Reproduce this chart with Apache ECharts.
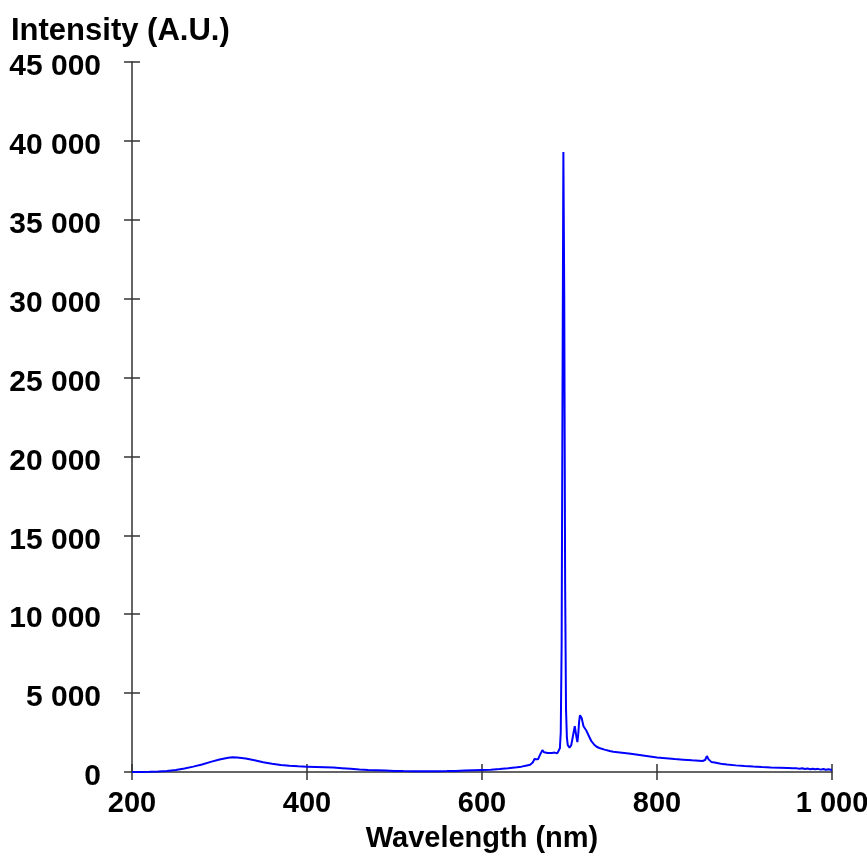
<!DOCTYPE html>
<html>
<head>
<meta charset="utf-8">
<script src="https://cdn.jsdelivr.net/npm/echarts@6/dist/echarts.min.js"></script>
<style>
html,body{margin:0;padding:0;background:#fff;}
#chart{width:867px;height:861px;}
</style>
</head>
<body>
<div id="chart"></div>
<script>
// Wavelength (nm)
var wavelengths = [200,210,220,230,240,250,260,270,280,290,300,310,315,320,330,340,350,360,370,380,390,400,410,420,430,440,450,460,470,480,490,500,510,520,530,540,550,560,570,580,590,600,610,620,630,640,645,650,655,658,660,662,664,666,669,671,673,675,677,680,683,686,688,689,690,691,692,693,694,695,696,697,698,700,702,704,706,707,708,709,710,711,712,713,714,716,719,722,725,728,731,734,740,746,750,760,770,780,790,800,810,820,830,840,848,852,855,857,859,862,866,870,875,880,890,900,910,914,920,930,940,950,952,955,960,963,966,969,972,975,978,981,984,987,990,993,996,1000];
// Intensity (A.U.)
var intensities = [0,5,10,25,60,120,220,340,480,640,790,900,930,920,850,740,620,520,450,400,360,340,320,300,280,240,200,160,130,110,90,70,60,55,50,50,55,60,70,90,110,130,150,190,240,300,340,400,460,600,820,700,800,1050,1390,1250,1280,1200,1250,1200,1230,1180,1250,1500,2500,8000,24000,39300,30000,12000,4000,2200,1700,1550,1700,2300,2900,2850,2200,1900,2400,3200,3600,3670,3400,2900,2650,2300,1950,1750,1600,1520,1420,1330,1290,1220,1150,1080,1000,920,870,820,780,740,720,700,760,1010,800,640,600,560,500,470,420,380,350,340,320,290,270,250,300,230,230,200,240,190,220,180,210,170,200,150,190,140,180,130];
var xTicks = [200,400,600,800,1000];
var yTicks = [0,5000,10000,15000,20000,25000,30000,35000,40000,45000];

var seriesData = wavelengths.map(function(w,i){return [w,intensities[i]];});
function fmt(v){ return String(v).replace(/\B(?=(\d{3})+(?!\d))/g,' '); }

var FONT = "'Liberation Sans', Arial, sans-serif";
var axisCol = '#333';

var chart = echarts.init(document.getElementById('chart'), null, {renderer:'canvas'});
chart.setOption({
  animation:false,
  backgroundColor:'#fff',
  title:{text:'Intensity (A.U.)',left:6,top:11,textStyle:{fontFamily:FONT,fontWeight:'bold',fontSize:31,color:'#000'}},
  grid:{left:132,right:35,top:62,bottom:89,containLabel:false,outerBoundsMode:'none'},
  xAxis:[{
    type:'value',min:xTicks[0],max:xTicks[xTicks.length-1],interval:200,position:'bottom',
    name:'Wavelength (nm)',nameLocation:'middle',nameGap:52,
    nameTextStyle:{fontFamily:FONT,fontWeight:'bold',fontSize:29,color:'#000'},
    axisLine:{show:true,onZero:false,lineStyle:{color:axisCol,width:1.5}},
    axisTick:{show:true,length:8,lineStyle:{color:axisCol,width:1.5}},
    axisLabel:{margin:17,formatter:fmt,fontFamily:FONT,fontWeight:'bold',fontSize:29,color:'#000'},
    splitLine:{show:false}
  },{
    type:'value',min:xTicks[0],max:xTicks[xTicks.length-1],interval:200,position:'bottom',
    axisLine:{show:false},
    axisTick:{show:true,inside:true,length:8,lineStyle:{color:axisCol,width:1.5}},
    axisLabel:{show:false},splitLine:{show:false}
  }],
  yAxis:[{
    type:'value',min:yTicks[0],max:yTicks[yTicks.length-1],interval:5000,position:'left',
    axisLine:{show:true,onZero:false,lineStyle:{color:axisCol,width:1.5}},
    axisTick:{show:true,length:8,lineStyle:{color:axisCol,width:1.5}},
    axisLabel:{margin:31,formatter:fmt,fontFamily:FONT,fontWeight:'bold',fontSize:30,color:'#000',verticalAlign:'top',lineHeight:10},
    splitLine:{show:false}
  },{
    type:'value',min:yTicks[0],max:yTicks[yTicks.length-1],interval:5000,position:'left',
    axisLine:{show:false},
    axisTick:{show:true,inside:true,length:8,lineStyle:{color:axisCol,width:1.5}},
    axisLabel:{show:false},splitLine:{show:false}
  }],
  series:[{
    type:'line',xAxisIndex:0,yAxisIndex:0,data:seriesData,
    showSymbol:false,symbol:'none',smooth:false,
    lineStyle:{color:'#0000ff',width:2},
    z:1
  }]
});
</script>
</body>
</html>
